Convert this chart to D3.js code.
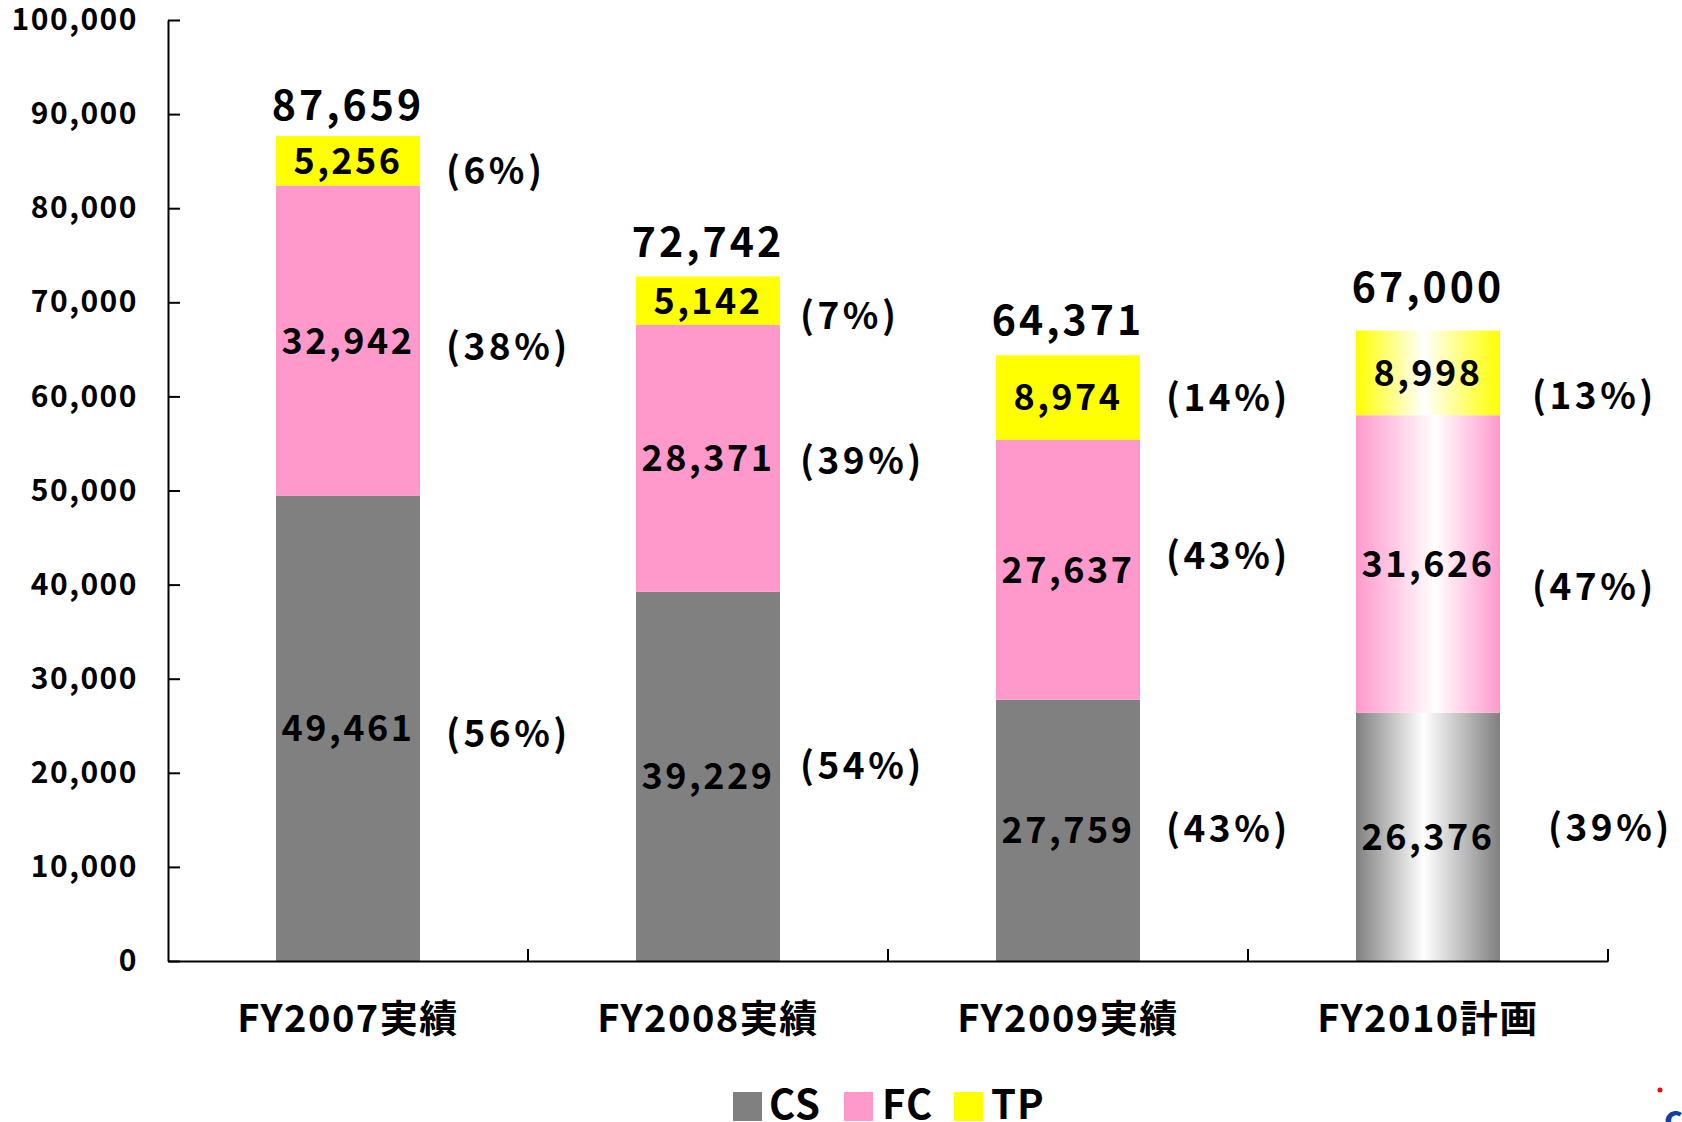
<!DOCTYPE html>
<html>
<head>
<meta charset="utf-8">
<script src="https://cdn.jsdelivr.net/npm/d3@7"></script>
<style>
  html, body { margin: 0; padding: 0; background: #fff; }
  svg { display: block; font-family: "Noto Sans CJK JP", "Noto Sans", sans-serif; font-weight: bold; }
</style>
</head>
<body>
<div id="chart"></div>
<script>
// Data
const categories = ['FY2007実績', 'FY2008実績', 'FY2009実績', 'FY2010計画'];
const csValues = [49461, 39229, 27759, 26376];
const fcValues = [32942, 28371, 27637, 31626];
const tpValues = [5256, 5142, 8974, 8998];
const totals = [87659, 72742, 64371, 67000];
const seriesKeys = ['CS', 'FC', 'TP'];
const yTicks = [0, 10000, 20000, 30000, 40000, 50000, 60000, 70000, 80000, 90000, 100000];

// Label nudges (px), per category; percent ones are [CS, FC, TP]
const pctNudgeY = [[5, 6, 10], [-11, 2, 15], [-2, -14, 0], [-9, 23, 23]];
const pctNudgeX = [[0, 0, 0], [-6, -6, -6], [0, 0, 0], [22, 6, 6]];
const totalNudgeY = [-31, -34, -35, -43];

const colors = { CS: '#808080', FC: '#FF99CC', TP: '#FFFF00' };
const planIndex = 3; // last bar is drawn with a gradient (plan)

const width = 1682, height = 1122;

const svg = d3.select('#chart').append('svg')
    .attr('width', width)
    .attr('height', height);

// Gradients for the plan bar
const defs = svg.append('defs');
seriesKeys.forEach(k => {
    const stops = k === 'FC'
        ? [[0, colors[k]], [0.55, '#ffffff'], [1, colors[k]]]
        : [[0, colors[k]], [0.47, '#ffffff'], [1, colors[k]]];
    const grad = defs.append('linearGradient')
        .attr('id', 'grad-' + k)
        .attr('x1', '0%').attr('x2', '100%')
        .attr('y1', '0%').attr('y2', '0%');
    stops.forEach(s => grad.append('stop')
        .attr('offset', (s[0] * 100) + '%')
        .attr('stop-color', s[1]));
});

const rows = categories.map((c, i) => ({
    category: c, CS: csValues[i], FC: fcValues[i], TP: tpValues[i], total: totals[i]
}));

const x = d3.scaleBand()
    .domain(categories)
    .range([168, 1608])
    .paddingInner(0.6)
    .paddingOuter(0.3);

const y = d3.scaleLinear()
    .domain([0, 100000])
    .range([961, 20]);

const stacked = d3.stack().keys(seriesKeys)(rows);

// Bars
const layers = svg.append('g')
    .selectAll('g')
    .data(stacked)
    .join('g');

layers.selectAll('rect')
    .data(d => d.map((p, i) => ({ p, i, key: d.key })))
    .join('rect')
    .attr('x', d => x(categories[d.i]))
    .attr('width', x.bandwidth())
    .attr('y', d => y(d.p[1]))
    .attr('height', d => y(d.p[0]) - y(d.p[1]))
    .attr('fill', d => d.i === planIndex ? 'url(#grad-' + d.key + ')' : colors[d.key]);

// Value labels inside segments
layers.selectAll('text.val')
    .data(d => d.map((p, i) => ({ p, i, key: d.key })))
    .join('text')
    .attr('class', 'val')
    .attr('x', d => x(categories[d.i]) + x.bandwidth() / 2)
    .attr('y', d => y((d.p[0] + d.p[1]) / 2))
    .attr('dy', '0.36em')
    .attr('text-anchor', 'middle')
    .attr('font-size', 36)
    .attr('letter-spacing', 2.5)
    .attr('fill', '#000')
    .text(d => d3.format(',')(d.p[1] - d.p[0]));

// Percent labels to the right
layers.selectAll('text.pct')
    .data(d => d.map((p, i) => ({ p, i, key: d.key })))
    .join('text')
    .attr('class', 'pct')
    .attr('x', d => x(categories[d.i]) + x.bandwidth() + 26 + pctNudgeX[d.i][seriesKeys.indexOf(d.key)])
    .attr('y', d => y((d.p[0] + d.p[1]) / 2) + pctNudgeY[d.i][seriesKeys.indexOf(d.key)])
    .attr('dy', '0.36em')
    .attr('text-anchor', 'start')
    .attr('font-size', 37)
    .attr('letter-spacing', 3.5)
    .attr('fill', '#000')
    .text(d => '(' + Math.round((d.p[1] - d.p[0]) / totals[d.i] * 100) + '%)');

// Totals above bars
svg.append('g')
    .selectAll('text')
    .data(rows)
    .join('text')
    .attr('x', d => x(d.category) + x.bandwidth() / 2)
    .attr('y', (d, i) => y(d.total) + totalNudgeY[i])
    .attr('dy', '0.36em')
    .attr('text-anchor', 'middle')
    .attr('font-size', 41)
    .attr('letter-spacing', 3)
    .attr('fill', '#000')
    .text(d => d3.format(',')(d.total));

// Y axis
const yAxis = svg.append('g')
    .attr('transform', 'translate(168,0)')
    .call(d3.axisLeft(y)
        .tickValues(yTicks)
        .tickFormat(d3.format(','))
        .tickSizeInner(-12)
        .tickSizeOuter(0)
        .tickPadding(30));
yAxis.selectAll('text')
    .attr('font-size', 30)
    .attr('font-family', '"Noto Sans CJK JP", sans-serif')
    .attr('font-weight', 'bold')
    .attr('letter-spacing', 1.5)
    .attr('fill', '#000');
yAxis.selectAll('line, path').attr('stroke', '#000').attr('stroke-width', 2);

// X axis
const xAxis = svg.append('g')
    .attr('transform', 'translate(0,961)')
    .call(d3.axisBottom(x).tickSize(0).tickPadding(44).tickSizeOuter(0));
xAxis.selectAll('text')
    .attr('font-size', 38)
    .attr('font-family', '"Noto Sans CJK JP", sans-serif')
    .attr('font-weight', 'bold')
    .attr('letter-spacing', 1.5)
    .attr('fill', '#000');
xAxis.select('path').attr('stroke', '#000').attr('stroke-width', 2);

// Category separator ticks (pointing up)
const step = x.step();
xAxis.append('g')
    .selectAll('line')
    .data(categories)
    .join('line')
    .attr('x1', d => x(d) + x.bandwidth() + step * x.paddingInner() / 2)
    .attr('x2', d => x(d) + x.bandwidth() + step * x.paddingInner() / 2)
    .attr('y1', 0)
    .attr('y2', -12)
    .attr('stroke', '#000')
    .attr('stroke-width', 2);

// Legend
const legendItems = [
    { key: 'CS', sx: 733, tx: 769 },
    { key: 'FC', sx: 844, tx: 882 },
    { key: 'TP', sx: 954, tx: 991 }
];
const legend = svg.append('g');
legend.selectAll('rect')
    .data(legendItems)
    .join('rect')
    .attr('x', d => d.sx)
    .attr('y', 1092)
    .attr('width', 29)
    .attr('height', 29)
    .attr('fill', d => colors[d.key]);
legend.selectAll('text')
    .data(legendItems)
    .join('text')
    .attr('x', d => d.tx)
    .attr('y', 1119)
    .attr('font-size', 40)
    .attr('letter-spacing', 1)
    .attr('fill', '#000')
    .text(d => d.key);

// Cropped logo fragment bottom-right
svg.append('circle').attr('cx', 1660).attr('cy', 1090).attr('r', 2.5).attr('fill', '#ff0000');
svg.append('text')
    .attr('x', 1664).attr('y', 1131)
    .attr('font-size', 36)
    .attr('fill', '#1040a0')
    .text('c');
</script>
</body>
</html>
